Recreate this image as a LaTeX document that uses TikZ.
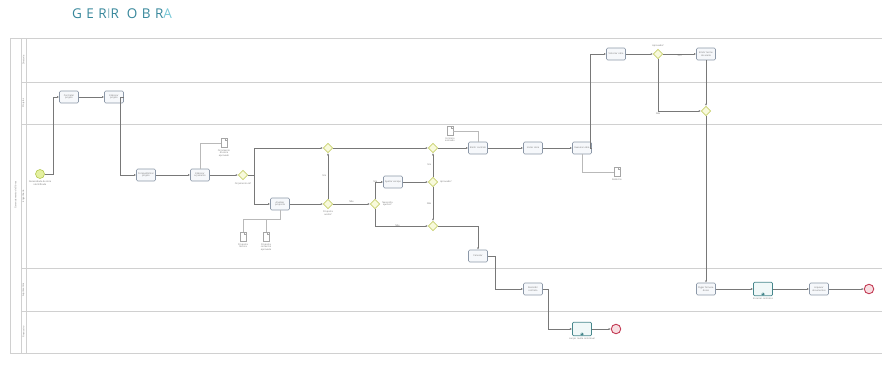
\documentclass[tikz,border=0pt]{standalone}
\usepackage{fontspec}
\setmainfont{Open Sans}
\newfontfamily\titlefont[LetterSpace=33]{Open Sans}
\usetikzlibrary{shapes.geometric,arrows.meta,calc,positioning}
\definecolor{lanec}{RGB}{208,208,208}
\definecolor{taskd}{RGB}{140,152,168}
\definecolor{taskf}{RGB}{246,248,251}
\definecolor{subd}{RGB}{70,135,140}
\definecolor{subf}{RGB}{240,248,248}
\definecolor{gwd}{RGB}{200,208,110}
\definecolor{gwf}{RGB}{248,250,220}
\definecolor{std}{RGB}{180,200,80}
\definecolor{stf}{RGB}{228,240,160}
\definecolor{endd}{RGB}{195,60,85}
\definecolor{endf}{RGB}{248,222,226}
\definecolor{flowc}{RGB}{120,120,120}
\definecolor{txtc}{RGB}{110,110,110}
\definecolor{teal1}{RGB}{55,135,155}
\definecolor{teal2}{RGB}{150,190,200}
\definecolor{teal3}{RGB}{120,200,215}
\tikzset{
  tiny/.style={font=\fontsize{2.3}{2.7}\selectfont, text=txtc},
  task/.style={tiny, draw=taskd, fill=taskf, rounded corners=1.2pt, line width=0.6pt,
    minimum width=19pt, minimum height=12pt, inner sep=0.3pt, align=center, text width=17pt},
  subproc/.style={task, draw=subd, fill=subf, minimum height=13.5pt, line width=0.7pt,
    path picture={\draw[subd, line width=0.3pt] ([xshift=-1.5pt,yshift=0.3pt]path picture bounding box.south) rectangle ++(3pt,2.6pt);
                  \draw[subd, line width=0.3pt] ([yshift=0.7pt]path picture bounding box.south) -- ++(0,1.8pt)
                        ([xshift=-0.9pt,yshift=1.6pt]path picture bounding box.south) -- ++(1.8pt,0);}},
  gw/.style={diamond, aspect=1, draw=gwd, fill=gwf, line width=0.6pt, minimum size=9.5pt, inner sep=0pt},
  startev/.style={circle, draw=std, fill=stf, line width=0.6pt, minimum size=9pt, inner sep=0pt},
  endev/.style={circle, draw=endd, fill=endf, line width=0.9pt, minimum size=9.5pt, inner sep=0pt},
  docu/.style={draw=gray!70, fill=white, line width=0.4pt, minimum width=6pt, minimum height=9pt, inner sep=0pt,
    path picture={\draw[gray!70, line width=0.3pt] ([xshift=-1.6pt]path picture bounding box.north east) -- ++(0,-1.6pt) -- ++(1.6pt,0);}},
  flow/.style={draw=flowc, line width=0.45pt, -{Latex[length=2.2pt,width=2pt]}},
  assoc/.style={draw=gray!55, line width=0.4pt},
  lbl/.style={tiny, align=center, inner sep=0.5pt},
  lane/.style={draw=lanec, line width=0.6pt}
}
\begin{document}
\begin{tikzpicture}[x=1pt,y=-1pt]
\useasboundingbox (0,0) rectangle (882,364);
% title
\node[anchor=west, inner sep=0pt, font=\titlefont\fontsize{13.5}{14}\selectfont] (title) at (72,14)
  {\textcolor{teal1}{GER}\textcolor{teal2}{I}\textcolor{teal1}{R OBR}\textcolor{teal3}{A}};
% pool and lanes
\draw[lane] (886,38) -- (10,38) -- (10,353) -- (886,353);
\draw[lane] (21,38) -- (21,353);
\draw[lane] (26,38) -- (26,353);
\draw[lane] (21,82) -- (886,82);
\draw[lane] (21,124) -- (886,124);
\draw[lane] (21,268) -- (886,268);
\draw[lane] (21,311) -- (886,311);
\node[lbl, rotate=90] (poolname) at (15.5,195) {Gerenciamento de Obras};
\node[lbl, rotate=90] (lane1) at (23.5,60) {Diretoria};
\node[lbl, rotate=90] (lane2) at (23.5,103) {Projetos};
\node[lbl, rotate=90] (lane3) at (23.5,196) {Engenharia};
\node[lbl, rotate=90] (lane4) at (23.5,290) {Suprimentos};
\node[lbl, rotate=90] (lane5) at (23.5,332) {Financeiro};

% lane 2
\node[task] (A) at (69,97) {Contratar projeto};
\node[task] (B) at (114,97) {Elaborar projeto};
% lane 3
\node[startev] (S) at (40,174) {};
\node[lbl, below=1.5pt of S] (Sl) {Necessidade de obra\\identificada};
\node[task] (C) at (146,175) {Compatibilizar projeto};
\node[task] (D) at (200,175) {Elaborar orçamento};
\node[docu] (dD) at (224,143) {};
\node[lbl, below=1pt of dD] (dDl) {Orçamento\\da obra\\aprovado};
\node[gw] (G1) at (243,175) {};
\node[lbl, below=1.5pt of G1] (G1l) {Orçamento ok?};
\node[gw] (G2) at (328,148) {};
\node[task] (E) at (280,204) {Analisar proposta};
\node[docu] (dE1) at (243,237) {};
\node[docu] (dE2) at (266,237) {};
\node[lbl, below=1pt of dE1] (dE1l) {Proposta\\técnica};
\node[lbl, below=1pt of dE2] (dE2l) {Proposta\\comercial\\aprovada};
\node[gw] (G3) at (328,204) {};
\node[lbl, below=1.5pt of G3] (G3l) {Proposta\\aceita?};
\node[gw] (G4) at (375,204) {};
\node[lbl, right=1.5pt of G4] (G4l) {Necessita\\ajustes?};
\node[task] (F) at (393,182) {Ajustar escopo};
\node[gw] (G6) at (433,182) {};
\node[lbl, right=1.5pt of G6] (G6l) {Aprovado?};
\node[gw] (G5) at (433,148) {};
\node[gw] (G7) at (433,226) {};
\node[task] (H) at (478,148) {Emitir contrato};
\node[docu] (dH) at (450,131) {};
\node[lbl, below=1pt of dH] (dHl) {Contrato\\assinado};
\node[task] (I) at (533,148) {Iniciar obra};
\node[task] (J) at (582,148) {Executar obra};
\node[docu] (dJ) at (617,172) {};
\node[lbl, below=1pt of dJ] (dJl) {Relatório};
\node[task] (P) at (478,256) {Cancelar};
% lane 1
\node[task] (K) at (616,54) {Vistoriar obra};
\node[gw] (G8) at (658,54) {};
\node[lbl, above=1.5pt of G8] (G8l) {Aprovada?};
\node[task] (L) at (706,54) {Emitir termo de aceite};
\node[gw] (G9) at (706,111) {};
% lane 4
\node[task] (M) at (706,289) {Pagar fornecedores};
\node[subproc] (N) at (763,289) {};
\node[lbl, below=1pt of N] (Nl) {Encerrar contratos};
\node[task] (O) at (819,289) {Arquivar documentos};
\node[endev] (E1) at (869,289) {};
\node[task] (Q) at (533,289) {Rescindir contrato};
% lane 5
\node[subproc] (R) at (582,329) {};
\node[lbl, below=1pt of R] (Rl) {Lançar multa contratual};
\node[endev] (E2) at (616,329) {};

% flows
\draw[flow] (S) -- ++(13,0) |- (A);
\draw[flow] (A) -- (B);
\draw[flow] (B) -- ++(6,0) |- (C);
\draw[flow] (C) -- (D);
\draw[assoc] (D.north) |- (dD);
\draw[flow] (D) -- (G1);
\draw[flow] (G1) -- ++(11.5,0) |- (G2);
\draw[flow] (G1) -- ++(11.5,0) |- (E);
\draw[assoc] (E.south) -- ++(0,9) -| (dE1.north);
\draw[assoc] (E.south) -- ++(0,9) -| (dE2.north);
\draw[flow] (E) -- (G3);
\draw[flow] (G3) -- node[lbl, left=1pt] (n1) {Sim} (G2);
\draw[flow] (G3) -- node[lbl, above=0.5pt] (n2) {Não} (G4);
\draw[flow] (G4) |- node[lbl, pos=0.75, left=1pt] (n3) {Sim} (F);
\draw[flow] (G4) |- node[lbl, pos=0.75, left=1pt] (n4) {Não} (G7);
\draw[flow] (F) -- (G6);
\draw[flow] (G2) -- (G5);
\draw[flow] (G6) -- node[lbl, left=1pt] (n5) {Sim} (G5);
\draw[flow] (G6) -- node[lbl, left=1pt] (n6) {Não} (G7);
\draw[flow] (G5) -- (H);
\draw[assoc] (H.north) |- (dH.east);
\draw[flow] (H) -- (I);
\draw[flow] (I) -- (J);
\draw[assoc] (J.south) |- (dJ.west);
\draw[flow] (J) -- ++(8,0) |- (K);
\draw[flow] (K) -- (G8);
\draw[flow] (G8) -- node[lbl, below=0.5pt] (n7) {Sim} (L);
\draw[flow] (G8) |- node[lbl, pos=0.5, below=1pt] (n8) {Não} (G9);
\draw[flow] (L) -- (G9);
\draw[flow] (G9) -- (M);
\draw[flow] (M) -- (N);
\draw[flow] (N) -- (O);
\draw[flow] (O) -- (E1);
\draw[flow] (G7) -| (P);
\draw[flow] (P) -- ++(17,0) |- (Q);
\draw[flow] (Q) -- ++(15,0) |- (R);
\draw[flow] (R) -- (E2);
\end{tikzpicture}
\end{document}
